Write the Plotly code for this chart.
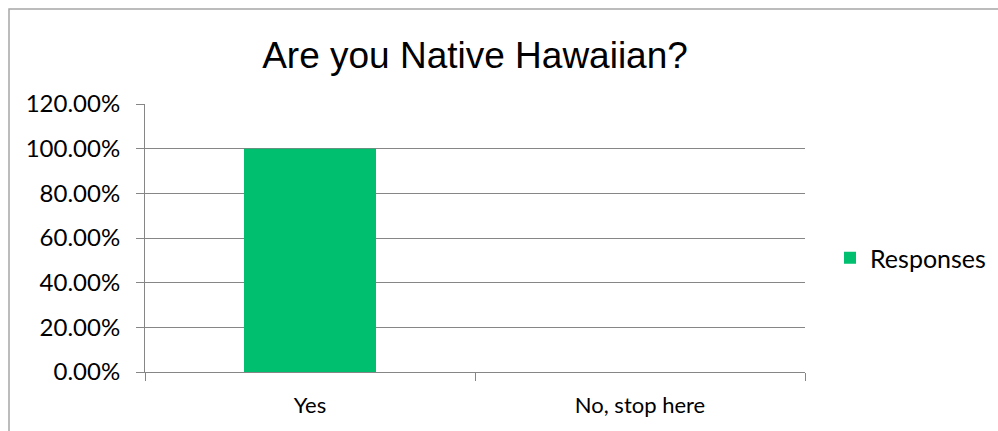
import plotly.graph_objects as go

categories = ["Yes", "No, stop here"]
responses = [1.0, 0.0]
y_ticks = [0, 0.2, 0.4, 0.6, 0.8, 1.0, 1.2]

W, H = 998, 431
L, R, T, B = 145, 193, 104, 59
pw, ph = W - L - R, H - T - B

fig = go.Figure()
fig.add_trace(go.Bar(
    x=categories, y=responses, name="Responses",
    marker=dict(color="#00BF6F", line=dict(width=0)),
    width=0.4, showlegend=True,
))

x_font = dict(family="Lato, Calibri, sans-serif", size=22, color="#000000")
y_font = dict(family="Lato, Calibri, sans-serif", size=24, color="#000000")
legend_font = dict(family="Lato, Calibri, sans-serif", size=25, color="#000000")

fig.update_layout(
    width=W, height=H,
    margin=dict(l=L, r=R, t=T, b=B, pad=0, autoexpand=False),
    paper_bgcolor="white", plot_bgcolor="white",
    title=dict(text="Are you Native Hawaiian?", x=475 / W, xanchor="center",
               y=1 - 55 / H, yanchor="middle",
               font=dict(family="Liberation Sans, Arial, sans-serif", size=37, color="#000000")),
    showlegend=True,
    legend=dict(x=(830 - L) / pw, xanchor="left", y=(372 - 258) / ph, yanchor="middle",
                font=legend_font, bgcolor="rgba(0,0,0,0)", itemwidth=30),
    xaxis=dict(
        showline=True, linecolor="#868686", linewidth=1,
        ticks="outside", ticklen=8, tickcolor="#868686", tickson="boundaries",
        tickfont=x_font, showgrid=False, zeroline=False,
        ticklabelstandoff=14,
        range=[-0.5, 1.5],
    ),
    yaxis=dict(
        range=[0, 1.2], tickvals=y_ticks, tickformat=".2%",
        showline=True, linecolor="#868686", linewidth=1,
        ticks="outside", ticklen=8, tickcolor="#868686",
        showgrid=True, gridcolor="#868686", gridwidth=1,
        zeroline=False, tickfont=y_font,
        ticklabelstandoff=11,
    ),
    shapes=[dict(
        type="rect", xref="paper", yref="paper",
        x0=(9 - L) / pw, x1=(W + 10 - L) / pw,
        y0=-(H + 10 - (H - B)) / ph, y1=1 + (T - 9) / ph,
        line=dict(color="#A6A6A6", width=1.5), fillcolor="rgba(0,0,0,0)", layer="below",
    )],
)

fig.write_html("out.html")
